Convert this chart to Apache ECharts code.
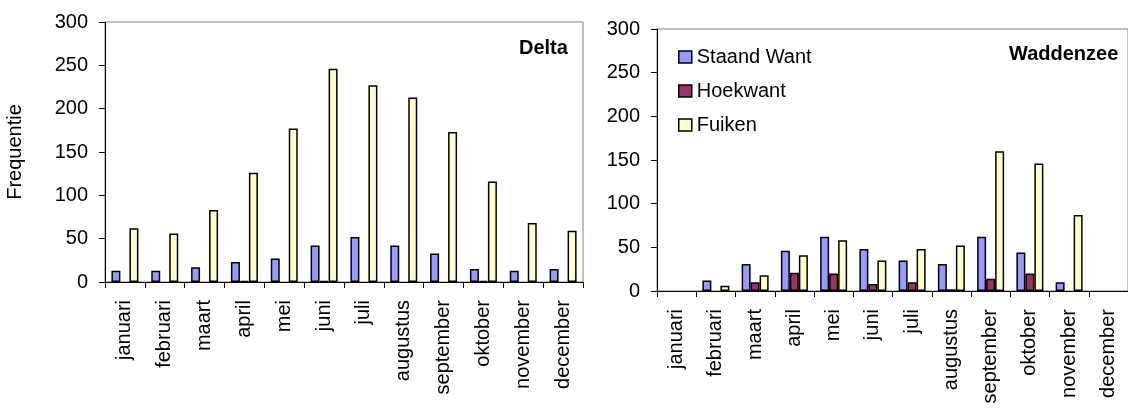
<!DOCTYPE html>
<html>
<head>
<meta charset="utf-8">
<script src="https://cdn.jsdelivr.net/npm/echarts@6/dist/echarts.min.js"></script>
<style>
  html, body { margin: 0; padding: 0; background: #fff; }
  #chart { width: 1128px; height: 408px; }
</style>
</head>
<body>
<div id="chart"></div>
<script>
// maanden
var months = ['januari', 'februari', 'maart', 'april', 'mei', 'juni', 'juli',
              'augustus', 'september', 'oktober', 'november', 'december'];
var yTicks = [0, 50, 100, 150, 200, 250, 300];

// Delta
var deltaStaand = [13, 13, 17, 23, 27, 42, 52, 42, 33, 15, 13, 15];
var deltaHoek   = [0, 0, 0, 1, 0, 1, 0, 0, 0, 1, 0, 0];
var deltaFuiken = [62, 56, 83, 126, 177, 246, 227, 213, 173, 116, 68, 59];

// Waddenzee
var waddStaand = [0, 12, 31, 46, 62, 48, 35, 31, 62, 44, 10, 0];
var waddHoek   = [0, 0, 10, 21, 20, 8, 10, 2, 14, 20, 0, 0];
var waddFuiken = [0, 6, 18, 41, 58, 35, 48, 52, 160, 146, 87, 0];

var chart = echarts.init(document.getElementById('chart'));

var font = 'Liberation Sans, Arial, sans-serif';
var colors = ['#9999ff', '#993366', '#ffffcc'];
var names = ['Staand Want', 'Hoekwant', 'Fuiken'];

function xAxisFor(idx) {
    return {
        type: 'category',
        gridIndex: idx,
        data: months,
        z: 5,
        axisLine: { lineStyle: { color: '#000', width: 1 } },
        axisTick: { show: true, length: 6, lineStyle: { color: '#000' } },
        axisLabel: { rotate: 90, margin: 18, interval: 0, color: '#000', fontSize: 20, fontFamily: font },
        splitLine: { show: false }
    };
}
function yAxisFor(idx, withName) {
    var ax = {
        type: 'value',
        gridIndex: idx,
        min: yTicks[0],
        max: yTicks[yTicks.length - 1],
        interval: yTicks[1] - yTicks[0],
        axisLine: { show: true, lineStyle: { color: '#000', width: 1 } },
        axisTick: { show: true, length: 6, lineStyle: { color: '#000' } },
        axisLabel: { margin: 17, color: '#000', fontSize: 20, fontFamily: font },
        splitLine: { show: false }
    };
    if (withName) {
        ax.name = 'Frequentie';
        ax.nameLocation = 'middle';
        ax.nameRotate = 90;
        ax.nameGap = 80;
        ax.nameTextStyle = { color: '#000', fontSize: 20, fontFamily: font };
    }
    return ax;
}
function barSeries(name, data, idx, color) {
    return {
        name: name,
        type: 'bar',
        xAxisIndex: idx,
        yAxisIndex: idx,
        barWidth: 9,
        barGap: '0%',
        itemStyle: { color: color, borderColor: '#000', borderWidth: 1.5 },
        // lege staven niet tekenen (zoals in Excel)
        data: data.map(function (v) {
            return v === 0 ? { value: 0, itemStyle: { borderWidth: 0, opacity: 0 } } : v;
        })
    };
}

var option = {
    animation: false,
    backgroundColor: '#fff',
    title: [
        { text: 'Delta', left: 519, top: 38, padding: 0,
          textStyle: { fontSize: 20, fontWeight: 'bold', color: '#000', fontFamily: font } },
        { text: 'Waddenzee', left: 1009, top: 44, padding: 0,
          textStyle: { fontSize: 20, fontWeight: 'bold', color: '#000', fontFamily: font } }
    ],
    legend: {
        orient: 'vertical',
        left: 678,
        top: 47,
        padding: 0,
        itemWidth: 13,
        itemHeight: 12,
        itemGap: 14,
        icon: 'rect',
        data: names,
        itemStyle: { borderColor: '#000', borderWidth: 1.5 },
        textStyle: { fontSize: 20, color: '#000', fontFamily: font }
    },
    grid: [
        { left: 105, top: 22, width: 478, height: 260, show: true,
          borderColor: '#808080', borderWidth: 1, backgroundColor: 'transparent' },
        { left: 657, top: 29, width: 475, height: 262, show: true,
          borderColor: '#808080', borderWidth: 1, backgroundColor: 'transparent' }
    ],
    xAxis: [xAxisFor(0), xAxisFor(1)],
    yAxis: [yAxisFor(0, true), yAxisFor(1, false)],
    series: [
        barSeries(names[0], deltaStaand, 0, colors[0]),
        barSeries(names[1], deltaHoek, 0, colors[1]),
        barSeries(names[2], deltaFuiken, 0, colors[2]),
        barSeries(names[0], waddStaand, 1, colors[0]),
        barSeries(names[1], waddHoek, 1, colors[1]),
        barSeries(names[2], waddFuiken, 1, colors[2])
    ]
};

chart.setOption(option);
</script>
</body>
</html>
